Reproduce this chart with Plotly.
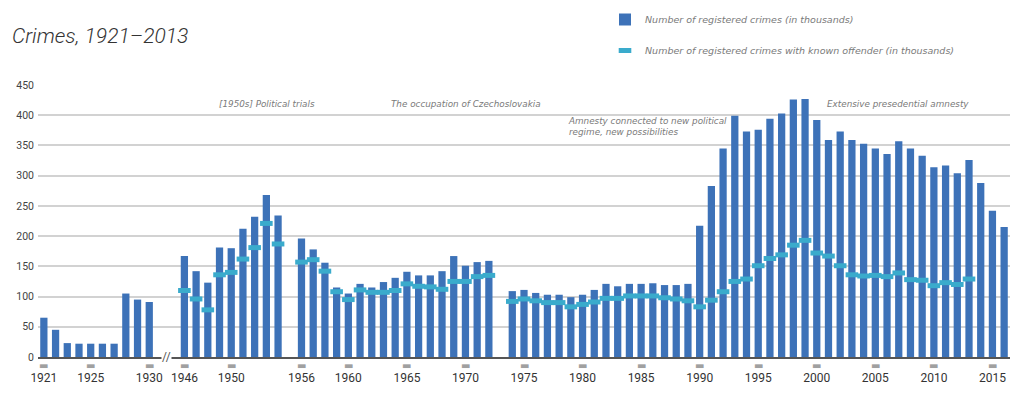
import plotly.graph_objects as go

# ---------------- data ----------------
years_early = [1921, 1922, 1923, 1924, 1925, 1926, 1927, 1928, 1929, 1930]
crimes_early = [65, 45, 23, 22, 22, 22, 22, 105, 95, 91]

years_late = list(range(1946, 2017))
crimes_late = [167, 142, 123, 181, 180, 212, 232, 268, 234, None,
               196, 178, 156, 115, 105, 121, 115, 124, 131, 141,
               135, 135, 142, 167, 151, 157, 159, None, 109, 111,
               106, 103, 103, 99, 103, 111, 121, 117, 121, 121,
               122, 119, 119, 121, 217, 283, 345, 399, 373, 376,
               394, 403, 426, 427, 392, 359, 373, 359, 353, 345,
               336, 357, 345, 333, 314, 317, 304, 326, 288, 242, 215]

offender_years = list(range(1946, 2014))
offender = [110, 96, 78, 136, 140, 162, 181, 221, 187, None,
            157, 161, 142, 108, 95, 111, 107, 107, 110, 121,
            117, 116, 112, 125, 125, 133, 135, None, 92, 96,
            93, 90, 90, 83, 87, 91, 97, 97, 101, 101,
            101, 98, 96, 93, 83, 94, 108, 125, 129, 151,
            163, 169, 185, 193, 172, 167, 151, 136, 134, 135,
            133, 139, 128, 127, 118, 123, 120, 129]

break_slots = ["break-a", "break-b"]
tick_years = [1921, 1925, 1930, 1946, 1950, 1956, 1960, 1965, 1970, 1975,
              1980, 1985, 1990, 1995, 2000, 2005, 2010, 2015]
y_ticks = [0, 50, 100, 150, 200, 250, 300, 350, 400, 450]

notes = ["[1950s] Political trials",
         "The occupation of Czechoslovakia",
         "Amnesty connected to new political<br>regime, new possibilities",
         "Extensive presedential amnesty"]
note_x_px = [217, 389, 566, 825]      # page pixels in the reference
note_y_px = [104, 104, 126, 104]

# ---------------- figure ----------------
categories = [str(y) for y in years_early] + break_slots + [str(y) for y in years_late]

BLUE = "#3d72b8"
CYAN = "#3aabcc"
FONT = "Roboto"
NOTE_FONT = "DejaVu Sans"

# the page body has an 8px margin, so the figure starts at (8, 8)
OFF = 8
PAGE_W, PAGE_H = 1024, 393
W, H = PAGE_W - OFF, PAGE_H - OFF
PLOT_L, PLOT_R, PLOT_T, PLOT_B = 38, 1010, 85, 357   # page pixels
ML, MR = PLOT_L - OFF, W - (PLOT_R - OFF)
MT, MB = PLOT_T - OFF, H - (PLOT_B - OFF)
PW, PH = W - ML - MR, H - MT - MB


def px_x(px):
    return (px - PLOT_L) / PW


def px_y(py):
    return (PLOT_B - py) / PH


fig = go.Figure()

fig.add_trace(go.Bar(
    x=[str(y) for y in years_early] + [str(y) for y in years_late],
    y=crimes_early + crimes_late,
    marker=dict(color=BLUE, line=dict(width=0)),
    name="Number of registered crimes (in thousands)",
    legendgroup="a",
))

fig.add_trace(go.Scatter(
    x=[str(y) for y in offender_years],
    y=offender,
    mode="markers",
    marker=dict(symbol="line-ew", size=9, color=CYAN,
                line=dict(color=CYAN, width=5)),
    name="Number of registered crimes with known offender (in thousands)",
    legendgroup="b",
))

annotations = []
for t, xp, yp in zip(notes, note_x_px, note_y_px):
    annotations.append(dict(
        text=t, xref="paper", yref="paper",
        x=px_x(xp), y=px_y(yp),
        xanchor="left", yanchor="middle", align="left",
        showarrow=False,
        font=dict(family=NOTE_FONT, size=8.8, color="#7a7a7a", style="italic"),
    ))

# small grey dashes under the axis at labelled years (category index positions)
for y in tick_years:
    annotations.append(dict(
        text="▬", x=categories.index(str(y)), y=0, xref="x", yref="y", yshift=-8,
        yanchor="middle", xanchor="center", borderpad=0,
        font=dict(family=NOTE_FONT, size=10, color="#a0a0a0"),
        showarrow=False,
    ))

break_pos = (categories.index(break_slots[0]) + categories.index(break_slots[1])) / 2
annotations.append(dict(
    text="//", x=break_pos, y=0, xref="x", yref="y",
    showarrow=False, bgcolor="white", borderpad=0,
    font=dict(family=FONT, size=12, color="#555555"),
))

fig.update_layout(
    width=W, height=H,
    margin=dict(l=ML, r=MR, t=MT, b=MB, autoexpand=False),
    paper_bgcolor="white", plot_bgcolor="white",
    bargap=0.38,
    title=dict(text="Crimes, 1921–2013", x=(12 - OFF) / W, xref="container", xanchor="left",
               y=1 - (36 - OFF) / H, yref="container", yanchor="middle",
               font=dict(family=FONT, size=21, color="#333333", style="italic", weight=300)),
    legend=dict(x=px_x(605), xanchor="left", y=px_y(5), yanchor="top",
                orientation="v", tracegroupgap=12, itemwidth=30,
                font=dict(family=NOTE_FONT, size=9.5, color="#7a7a7a", style="italic"),
                bgcolor="rgba(0,0,0,0)"),
    annotations=annotations,
    xaxis=dict(type="category", categoryorder="array", categoryarray=categories,
               range=[-0.5, len(categories) - 0.5],
               tickmode="array", tickvals=[str(y) for y in tick_years],
               ticktext=[str(y) for y in tick_years],
               ticks="", ticklabelstandoff=9,
               tickfont=dict(family=FONT, size=12, color="#333333"),
               showgrid=False, showline=True, linecolor="#555555", linewidth=1.5,
               fixedrange=True),
    yaxis=dict(range=[0, 450], tickmode="array", tickvals=y_ticks,
               tickfont=dict(family=FONT, size=10.5, color="#444444"),
               showgrid=True, gridcolor="#d2d2d2", gridwidth=1.5,
               zeroline=False, ticks="", ticklabelstandoff=3, fixedrange=True),
    showlegend=True,
)

fig.write_html("out.html")
